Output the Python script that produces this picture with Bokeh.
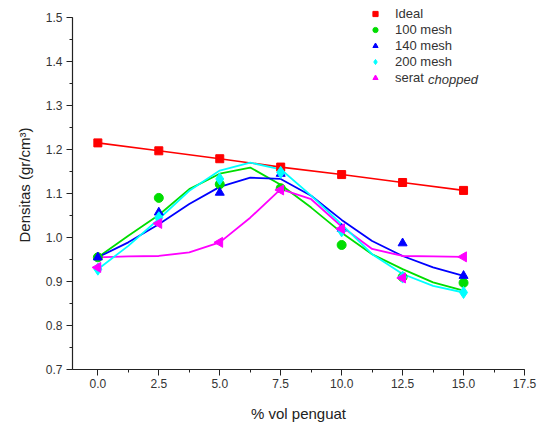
from bokeh.plotting import figure
from bokeh.models import (Range1d, SingleIntervalTicker, NumeralTickFormatter,
                          Legend, LegendItem, Label)
from bokeh.embed import file_html
from bokeh.resources import INLINE

# ---- data ----
x_pts = [0, 2.5, 5, 7.5, 10, 12.5, 15]
ideal = [1.215, 1.197, 1.179, 1.160, 1.143, 1.125, 1.107]
mesh100 = [0.955, 1.090, 1.121, 1.112, 0.983, 0.910, 0.897]
mesh140 = [0.955, 1.057, 1.102, 1.145, 1.020, 0.987, 0.913]
mesh200 = [0.928, 1.045, 1.133, 1.148, 1.015, 0.910, 0.875]
chopped = [0.932, 1.032, 0.989, 1.108, 1.020, 0.908, 0.956]

# fitted curves, values
x_fit = [0, 1.25, 2.5, 3.75, 5, 6.25, 7.5, 8.75, 10, 11.25, 12.5, 13.75, 15]
fit100 = [0.955, 1.004, 1.051, 1.110, 1.145, 1.159, 1.120, 1.068, 1.011, 0.962, 0.928, 0.898, 0.879]
fit140 = [0.955, 0.989, 1.030, 1.076, 1.115, 1.136, 1.133, 1.095, 1.040, 0.992, 0.958, 0.932, 0.913]
fit200 = [0.928, 0.981, 1.042, 1.106, 1.152, 1.170, 1.155, 1.095, 1.030, 0.962, 0.917, 0.890, 0.875]
fitchop = [0.955, 0.957, 0.958, 0.966, 0.989, 1.045, 1.110, 1.087, 1.025, 0.974, 0.958, 0.957, 0.956]

labels = ["Ideal", "100 mesh", "140 mesh", "200 mesh", "serat"]
label_italic = "chopped"

FONT = "Liberation Sans"

# y range extends a little above 1.5 so the legend is not clipped;
# the axis line itself is bounded to 0.7 .. 1.5
p = figure(width=542, height=425, output_backend="svg", toolbar_location=None,
           x_range=Range1d(-1.04, 17.5), y_range=Range1d(0.7, 1.5386),
           min_border_left=72, min_border_right=18, min_border_top=0,
           min_border_bottom=56)
p.outline_line_color = None
p.xgrid.grid_line_color = None
p.ygrid.grid_line_color = None
p.background_fill_color = "white"

# lines
p.line(x_pts, ideal, line_color="#ff0000", line_width=1.6)
p.line(x_fit, fit100, line_color="#00dd00", line_width=1.8)
p.line(x_fit, fit140, line_color="#0000ff", line_width=1.8)
p.line(x_fit, fitchop, line_color="#ff00ff", line_width=1.8)
p.line(x_fit, fit200, line_color="#00ffff", line_width=1.8)

# markers
r_ideal = p.scatter(x_pts, ideal, marker="square", size=8, color="#ff0000")
r100 = p.scatter(x_pts, mesh100, marker="circle", size=9, color="#00dd00")
r140 = p.scatter(x_pts, mesh140, marker="triangle", size=9, color="#0000ff")
r200 = p.scatter(x_pts, mesh200, marker="diamond", size=12, color="#00ffff")
rchop = p.scatter(x_pts, chopped, marker="triangle", angle=1.5708, size=10,
                  color="#ff00ff")

legend = Legend(items=[LegendItem(label=labels[0], renderers=[r_ideal]),
                       LegendItem(label=labels[1], renderers=[r100]),
                       LegendItem(label=labels[2], renderers=[r140]),
                       LegendItem(label=labels[3], renderers=[r200]),
                       LegendItem(label=labels[4], renderers=[rchop])],
                location=(296, 284), padding=0, margin=0, spacing=1,
                glyph_width=14, glyph_height=13, label_height=13,
                label_standoff=13, border_line_color=None,
                background_fill_alpha=0,
                label_text_font=FONT, label_text_font_size="13px",
                label_text_color="#333333")
p.add_layout(legend)

p.add_layout(Label(x=355.5, y=289.7, x_units="screen", y_units="screen",
                   text=label_italic, text_font=FONT, text_font_size="13px",
                   text_font_style="italic", text_color="#333333",
                   text_baseline="middle"))

for ax in (p.xaxis[0], p.yaxis[0]):
    ax.axis_line_color = "#222222"
    ax.axis_line_width = 1.2
    ax.major_tick_line_color = "#222222"
    ax.minor_tick_line_color = "#222222"
    ax.major_tick_out = 6
    ax.major_tick_in = 0
    ax.minor_tick_out = 3
    ax.minor_tick_in = 0
    ax.major_label_text_font = FONT
    ax.major_label_text_font_size = "12px"
    ax.major_label_text_color = "#333333"
    ax.axis_label_text_font = FONT
    ax.axis_label_text_font_size = "15px"
    ax.axis_label_text_font_style = "normal"
    ax.axis_label_text_color = "#222222"
    ax.formatter = NumeralTickFormatter(format="0.0")

p.yaxis[0].bounds = (0.7, 1.5)
p.xaxis[0].ticker = SingleIntervalTicker(interval=2.5, num_minor_ticks=2)
p.yaxis[0].ticker = SingleIntervalTicker(interval=0.1, num_minor_ticks=2)
p.xaxis[0].axis_label = "% vol penguat"
p.yaxis[0].axis_label = "Densitas (gr/cm³)"
p.xaxis[0].major_label_standoff = 3
p.yaxis[0].major_label_standoff = 4
p.xaxis[0].axis_label_standoff = 14
p.yaxis[0].axis_label_standoff = 10

open("out.html", "w").write(file_html(p, INLINE))
